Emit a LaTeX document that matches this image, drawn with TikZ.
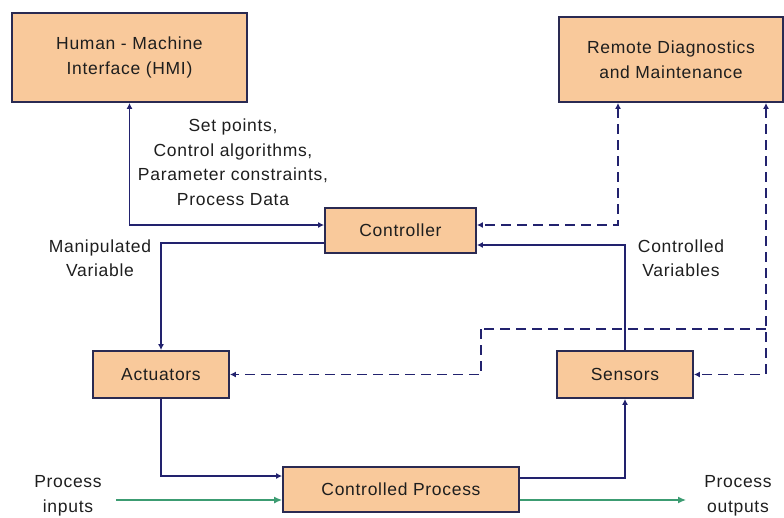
\documentclass[tikz,border=0pt]{standalone}
\usepackage{fontspec}
\setmainfont{Liberation Sans}[LetterSpace=4]
\usetikzlibrary{arrows.meta}
\definecolor{boxfill}{HTML}{F9C99B}
\definecolor{boxline}{HTML}{2A2A52}
\definecolor{navy}{HTML}{22226E}
\definecolor{grn}{HTML}{3C9C72}
\definecolor{txt}{HTML}{1E1E1E}
\tikzset{
  blk/.style={draw=boxline, line width=1.8pt, fill=boxfill, align=center, text=txt, inner sep=0pt},
  lbl/.style={align=center, text=txt, inner sep=0pt},
  conn/.style={draw=navy, line width=1.6pt, -{Latex[length=6pt,width=6pt]}},
  biconn/.style={draw=navy, line width=1.6pt, {Latex[length=6pt,width=6pt]}-{Latex[length=6pt,width=6pt]}},
  dconn/.style={conn, dash pattern=on 10pt off 6pt},
  dbiconn/.style={biconn, dash pattern=on 10pt off 6pt},
  dline/.style={draw=navy, line width=1.6pt, dash pattern=on 10pt off 6pt},
  gconn/.style={draw=grn, line width=1.3pt, -{Latex[length=8pt,width=7pt]}},
}
\begin{document}
\begin{tikzpicture}[x=1pt,y=-1pt, font=\fontsize{17.5}{24.5}\selectfont]
\useasboundingbox (0,0) rectangle (784,517);
% boxes
\node[blk, minimum width=235pt, minimum height=89pt] (hmi) at (129.5,57.5) {Human - Machine\\Interface (HMI)};
\node[blk, minimum width=224pt, minimum height=85pt] (rem) at (671,59.5) {Remote Diagnostics\\and Maintenance};
\node[blk, minimum width=151pt, minimum height=45pt] (ctrl) at (400.5,230.5) {Controller};
\node[blk, minimum width=136pt, minimum height=47pt] (act) at (161,374.5) {Actuators};
\node[blk, minimum width=136pt, minimum height=47pt] (sens) at (625,374.5) {Sensors};
\node[blk, minimum width=236pt, minimum height=45pt] (proc) at (401,489.5) {Controlled Process};
% labels
\node[lbl] (l1) at (233,162) {Set points,\\Control algorithms,\\Parameter constraints,\\Process Data};
\node[lbl] (l2) at (100,258) {Manipulated\\Variable};
\node[lbl] (l3) at (681,258) {Controlled\\Variables};
\node[lbl] (l4) at (68,496) {Process\\inputs};
\node[lbl] (l5) at (738,496) {Process\\outputs};
% coordinates
\coordinate (pin) at (116,500);
\coordinate (pout) at (686,500);
\coordinate (j) at (766,329);
\coordinate (k) at (481,329);
% connectors
\draw[biconn] (hmi.south) |- ([yshift=5.5pt]ctrl.west);
\draw[conn] ([yshift=-12.5pt]ctrl.west) -| (act.north);
\draw[conn] (sens.north) |- ([yshift=-14.5pt]ctrl.east);
\draw[conn] (act.south) |- ([yshift=13.5pt]proc.west);
\draw[conn] ([yshift=11.5pt]proc.east) -| (sens.south);
\draw[gconn] (pin) -- ([yshift=-10.5pt]proc.west);
\draw[gconn] ([yshift=-10.5pt]proc.east) -- (pout);
% dashed
\draw[dbiconn] ([xshift=-53pt]rem.south) |- ([yshift=5.5pt]ctrl.east);
\draw[dbiconn] ([xshift=95pt]rem.south) |- (sens.east);
\draw[dline] (j) -- (k);
\draw[dconn] (k) |- (act.east);
\end{tikzpicture}
\end{document}
